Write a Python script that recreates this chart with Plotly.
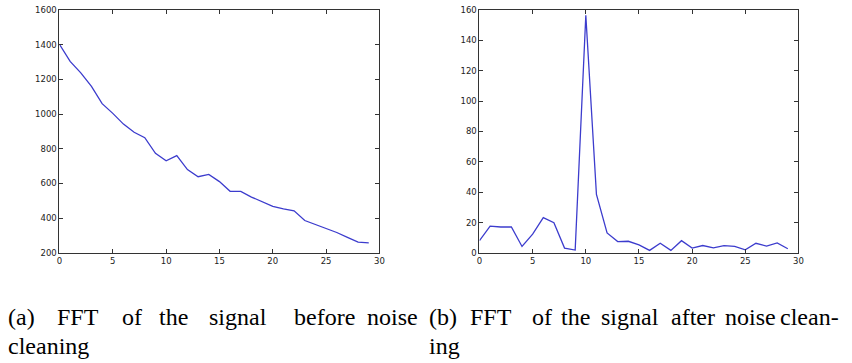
import plotly.graph_objects as go

x_vals = list(range(30))
before_vals = [1402, 1303, 1237, 1159, 1060, 1004, 942, 895, 864, 774,
               731, 761, 680, 639, 652, 611, 555, 555, 522, 497,
               469, 454, 443, 387, 364, 340, 318, 290, 262, 258]
after_vals = [8.1, 17.7, 17.1, 17.1, 4.3, 12.4, 23.3, 19.9, 3.2, 1.9,
              156.4, 38.5, 13.2, 7.5, 7.7, 5.3, 1.7, 6.4, 1.7, 8.1,
              3.2, 4.9, 3.4, 4.9, 4.3, 2.1, 6.4, 4.5, 6.6, 2.8]
x_ticks = [0, 5, 10, 15, 20, 25, 30]
y1_ticks = [200, 400, 600, 800, 1000, 1200, 1400, 1600]
y2_ticks = [0, 20, 40, 60, 80, 100, 120, 140, 160]

cap_a_line1 = ["(a)", "FFT", "of", "the", "signal", "before", "noise"]
cap_a_line2 = "cleaning"
cap_b_line1 = ["(b)", "FFT", "of", "the", "signal", "after", "noise", "clean-"]
cap_b_line2 = "ing"

W, H = 852, 363


def px(xp):
    return xp / W


def py(yp):
    return 1 - yp / H


line_color = "rgb(60,60,205)"

fig = go.Figure()
fig.add_trace(go.Scatter(x=x_vals, y=before_vals, mode="lines",
                         line=dict(color=line_color, width=1.3),
                         xaxis="x", yaxis="y", showlegend=False))
fig.add_trace(go.Scatter(x=x_vals, y=after_vals, mode="lines",
                         line=dict(color=line_color, width=1.3),
                         xaxis="x2", yaxis="y2", showlegend=False))

ax_common = dict(showgrid=False, zeroline=False, ticks="inside", ticklen=4,
                 tickcolor="#333", tickwidth=1, mirror="ticks", showline=True,
                 linecolor="#333", linewidth=1, ticklabeloverflow="allow",
                 tickfont=dict(family="DejaVu Sans", size=8.5, color="#222"))

ydom = [py(255), py(5)]
fig.update_layout(
    width=W, height=H, margin=dict(l=0, r=0, t=0, b=0),
    paper_bgcolor="white", plot_bgcolor="white",
    xaxis=dict(domain=[px(57), px(380)], range=[0, 30], tickvals=x_ticks, anchor="y", **ax_common),
    yaxis=dict(domain=ydom, range=[200, 1600], tickvals=y1_ticks, anchor="x", **ax_common),
    xaxis2=dict(domain=[px(481), px(803)], range=[0, 30], tickvals=x_ticks, anchor="y2", **ax_common),
    yaxis2=dict(domain=ydom, range=[0, 160], tickvals=y2_ticks, anchor="x2", **ax_common),
)

cap_font = dict(family="Liberation Serif", size=24, color="black")


def put(text, xp, yp, anchor="left"):
    fig.add_annotation(text=text, x=px(xp), y=py(yp), xref="paper", yref="paper",
                       xanchor=anchor, yanchor="middle", showarrow=False, font=cap_font)


a_pos = [3, 52, 118, 155, 206, 292, 421]
for i, (w, xp) in enumerate(zip(cap_a_line1, a_pos)):
    put(w, xp, 321, "right" if i == len(a_pos) - 1 else "left")
put(cap_a_line2, 3, 351)
b_pos = [428, 469, 532, 561, 602, 672, 727, 846]
for i, (w, xp) in enumerate(zip(cap_b_line1, b_pos)):
    put(w, xp, 321, "right" if i == len(b_pos) - 1 else "left")
put(cap_b_line2, 428, 351)

fig.write_html("out.html", config={"displayModeBar": False},
               post_script="document.body.style.margin='0';document.body.style.overflow='hidden';")
